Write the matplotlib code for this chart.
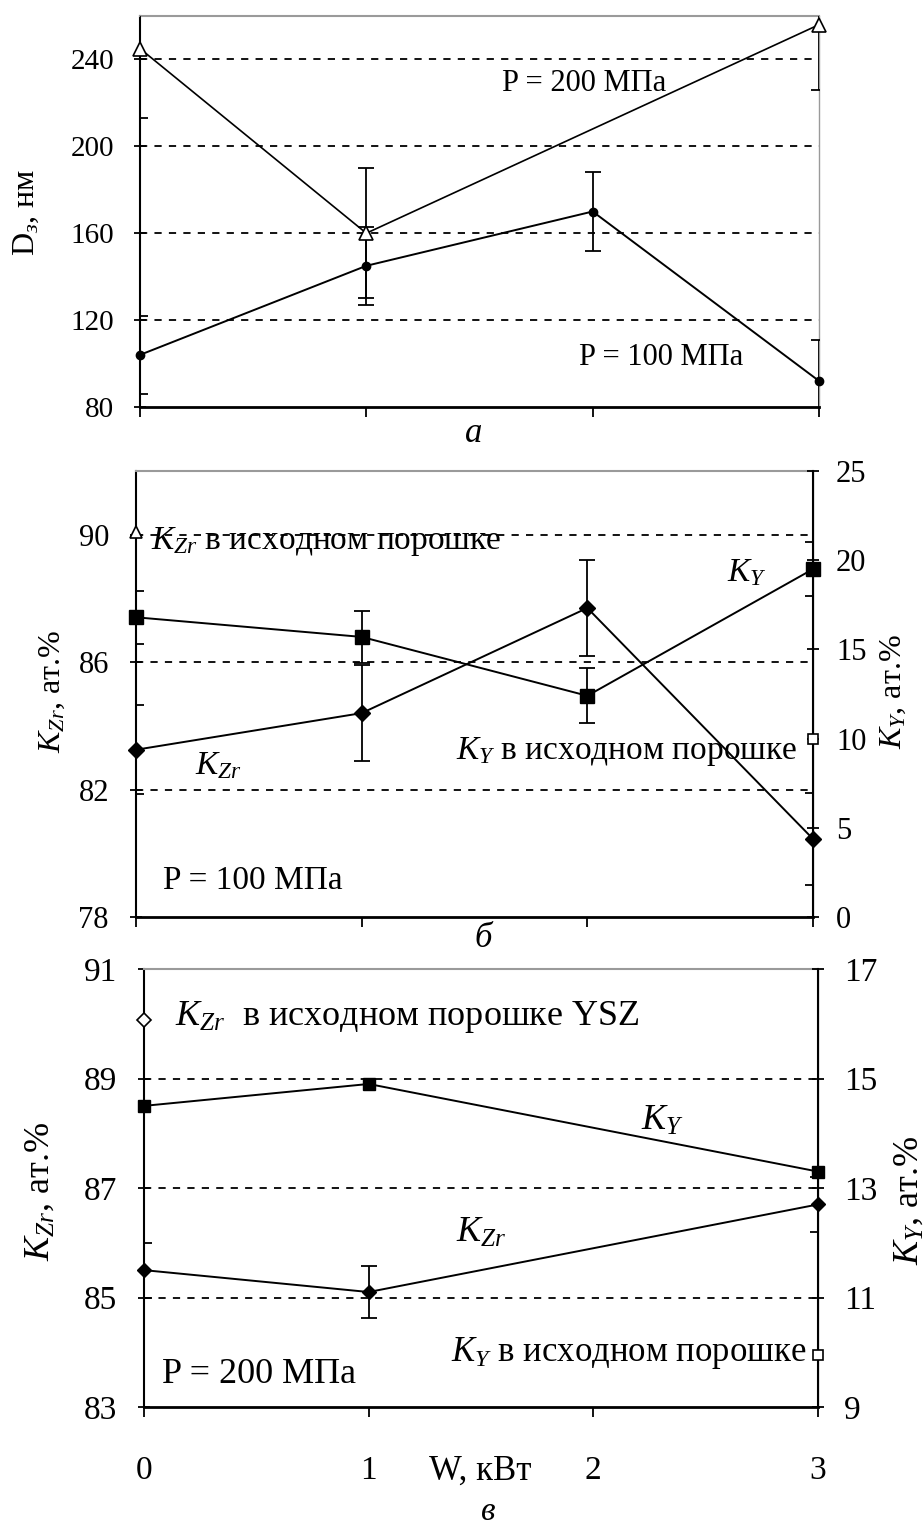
import matplotlib
matplotlib.use("Agg")
import matplotlib.pyplot as plt

plt.rcParams['font.family'] = ['Liberation Serif', 'DejaVu Serif']
plt.rcParams['mathtext.fontset'] = 'custom'
plt.rcParams['mathtext.rm'] = 'Liberation Serif'
plt.rcParams['mathtext.it'] = 'Liberation Serif:italic'

# --- data ---
W = [0, 1, 2, 3]
W_ticks = ['0', '1', '2', '3']

# (a) grain size, nm
d_100 = [104, 145, 170, 92]
d_100_err = [18, 18, 18, 19]
w_200 = [0, 1, 3]
d_200 = [245, 160, 256]
d_200_err = [32, 30, 30]

# (б) P = 100 MPa
kzr_100 = [83.25, 84.4, 87.7, 80.45]
kzr_100_err = [1.4, 1.5, 1.5, 1.45]
ky_100 = [16.8, 15.7, 12.4, 19.5]
ky_100_err = [1.5, 1.45, 1.55, 1.5]
kzr_init = 90.1
ky_init = 10.0

# (в) P = 200 MPa
w_200b = [0, 1, 3]
kzr_200 = [85.5, 85.1, 86.7]
kzr_200_err = [0.5, 0.48, 0.5]
ky_200 = [14.5, 14.9, 13.3]
kzr_init_b = 90.07
ky_init_b = 9.95

GRAY = '#9a9a9a'
DASH = (0, (4, 4))

fig = plt.figure(figsize=(9.24, 15.31), dpi=100)


def frame(ax, ticksize, pad_y):
    ax.set_xlim(0, 3)
    ax.set_xticks(W)
    ax.spines['top'].set_color(GRAY)
    ax.spines['top'].set_linewidth(1.5)
    ax.spines['right'].set_color(GRAY)
    ax.spines['right'].set_linewidth(1.0)
    ax.spines['left'].set_linewidth(1.5)
    ax.spines['bottom'].set_linewidth(2.0)
    ax.tick_params(axis='y', direction='inout', length=9, width=1.3,
                   labelsize=ticksize, pad=pad_y)
    ax.tick_params(axis='x', direction='out', length=7, width=1.3)
    ax.tick_params(axis='y', which='minor', left=False)


def grid(ax, vals):
    for v in vals:
        ax.axhline(v, color='black', lw=1.3, ls=DASH, zorder=1)


# ---------------- (a) ----------------
ax1 = fig.add_axes([140 / 924, 1 - 407 / 1531, 679 / 924, 391 / 1531])
frame(ax1, 21, 14)
ax1.set_ylim(80, 260)
ax1.set_yticks([80, 120, 160, 200, 240])
ax1.set_xticklabels([])
grid(ax1, [120, 160, 200, 240])

ax1.errorbar(w_200, d_200, yerr=d_200_err, fmt='none', ecolor='black',
             elinewidth=1.3, capsize=6, capthick=1.3, zorder=3)
ax1.errorbar(W, d_100, yerr=d_100_err, fmt='none', ecolor='black',
             elinewidth=1.3, capsize=6, capthick=1.3, zorder=3)
ax1.plot(w_200, d_200, color='black', lw=1.2, marker='^', ms=10,
         mfc='white', mec='black', mew=1.2, clip_on=False, zorder=4)
ax1.plot(W, d_100, color='black', lw=1.4, marker='o', ms=6,
         mfc='black', mec='black', clip_on=False, zorder=4)
ax1.text(1.6, 229, 'P = 200 МПа', fontsize=22, va='center', ha='left')
ax1.text(1.94, 103, 'P = 100 МПа', fontsize=22, va='center', ha='left')

fig.text(26 / 924, 1 - 212 / 1531, 'D$_з$, нм', rotation=90, fontsize=23,
         ha='center', va='center')
fig.text(474 / 924, 1 - 433 / 1531, 'а', style='italic', fontsize=25,
         ha='center', va='center')

# ---------------- (б) ----------------
ax2 = fig.add_axes([136 / 924, 1 - 917 / 1531, 677 / 924, 446 / 1531])
frame(ax2, 22, 15)
ax2.set_ylim(78, 92)
ax2.set_yticks([78, 82, 86, 90])
ax2.set_xticklabels([])
grid(ax2, [82, 86, 90])
ax2r = ax2.twinx()
ax2r.set_ylim(0, 25)
ax2r.set_yticks([0, 5, 10, 15, 20, 25])
ax2r.spines['right'].set_color('black')
ax2r.spines['right'].set_linewidth(1.5)
ax2r.spines['top'].set_visible(False)
ax2r.spines['left'].set_visible(False)
ax2r.spines['bottom'].set_visible(False)
ax2r.tick_params(axis='y', direction='inout', length=9, width=1.3,
                 labelsize=22, pad=12)

ax2.errorbar(W, kzr_100, yerr=kzr_100_err, fmt='none', ecolor='black',
             elinewidth=1.3, capsize=6, capthick=1.3, zorder=3)
ax2.plot(W, kzr_100, color='black', lw=1.4, marker='D', ms=8,
         mfc='black', mec='black', clip_on=False, zorder=4)
ax2r.errorbar(W, ky_100, yerr=ky_100_err, fmt='none', ecolor='black',
              elinewidth=1.3, capsize=6, capthick=1.3, zorder=3)
ax2r.plot(W, ky_100, color='black', lw=1.4, marker='s', ms=10,
          mfc='black', mec='black', clip_on=False, zorder=4)
ax2.plot([0], [kzr_init], ls='none', marker='^', ms=9, mfc='white',
         mec='black', mew=1.2, clip_on=False, zorder=5)
ax2r.plot([3], [ky_init], ls='none', marker='s', ms=7, mfc='white',
          mec='black', mew=1.2, clip_on=False, zorder=5)

ax2.text(0.066, 89.8, '$K_{Zr}$ в исходном порошке', fontsize=24,
         va='center', ha='left')
ax2.text(2.62, 88.8, '$K_{Y}$', fontsize=24, va='center', ha='left')
ax2.text(2.93, 83.18, '$K_{Y}$ в исходном порошке', fontsize=24,
         va='center', ha='right')
ax2.text(0.26, 82.76, '$K_{Zr}$', fontsize=24, va='center', ha='left')
ax2.text(0.12, 79.15, 'P = 100 МПа', fontsize=24, va='center', ha='left')

fig.text(52 / 924, 1 - 691 / 1531, '$K_{Zr}$, ат.%', rotation=90,
         fontsize=23, ha='center', va='center')
fig.text(893 / 924, 1 - 692 / 1531, '$K_{Y}$, ат.%', rotation=90,
         fontsize=23, ha='center', va='center')
fig.text(483 / 924, 1 - 938 / 1531, 'б', style='italic', fontsize=25,
         ha='center', va='center')

# ---------------- (в) ----------------
ax3 = fig.add_axes([144 / 924, 1 - 1407 / 1531, 674 / 924, 438 / 1531])
frame(ax3, 24, 15)
ax3.set_ylim(83, 91)
ax3.set_yticks([83, 85, 87, 89, 91])
ax3.set_xticklabels(W_ticks, fontsize=24)
ax3.tick_params(axis='x', pad=28)
grid(ax3, [85, 87, 89])
ax3r = ax3.twinx()
ax3r.set_ylim(9, 17)
ax3r.set_yticks([9, 11, 13, 15, 17])
ax3r.spines['right'].set_color('black')
ax3r.spines['right'].set_linewidth(1.5)
ax3r.spines['top'].set_visible(False)
ax3r.spines['left'].set_visible(False)
ax3r.spines['bottom'].set_visible(False)
ax3r.tick_params(axis='y', direction='inout', length=9, width=1.3,
                 labelsize=24, pad=14)

ax3.errorbar(w_200b, kzr_200, yerr=kzr_200_err, fmt='none', ecolor='black',
             elinewidth=1.3, capsize=6, capthick=1.3, zorder=3)
ax3.plot(w_200b, kzr_200, color='black', lw=1.4, marker='D', ms=7,
         mfc='black', mec='black', clip_on=False, zorder=4)
ax3r.plot(w_200b, ky_200, color='black', lw=1.4, marker='s', ms=8,
          mfc='black', mec='black', clip_on=False, zorder=4)
ax3.plot([0], [kzr_init_b], ls='none', marker='D', ms=7, mfc='white',
         mec='black', mew=1.2, clip_on=False, zorder=5)
ax3r.plot([3], [ky_init_b], ls='none', marker='s', ms=7, mfc='white',
          mec='black', mew=1.2, clip_on=False, zorder=5)

ax3.text(0.14, 90.13, '$K_{Zr}$  в исходном порошке YSZ', fontsize=26,
         va='center', ha='left')
ax3.text(2.21, 88.21, '$K_{Y}$', fontsize=26, va='center', ha='left')
ax3.text(1.39, 86.18, '$K_{Zr}$', fontsize=26, va='center', ha='left')
ax3.text(2.95, 83.98, '$K_{Y}$ в исходном порошке', fontsize=25,
         va='center', ha='right')
ax3.text(0.08, 83.6, 'P = 200 МПа', fontsize=26, va='center', ha='left')

fig.text(40 / 924, 1 - 1191 / 1531, '$K_{Zr}$, ат.%', rotation=90,
         fontsize=26, ha='center', va='center')
fig.text(909 / 924, 1 - 1200 / 1531, '$K_{Y}$, ат.%', rotation=90,
         fontsize=26, ha='center', va='center')
fig.text(480 / 924, 1 - 1471 / 1531, 'W, кВт', fontsize=25,
         ha='center', va='center')
fig.text(488 / 924, 1 - 1512 / 1531, 'в', style='italic', fontsize=24,
         ha='center', va='center')

fig.savefig('out.png', dpi=100)
